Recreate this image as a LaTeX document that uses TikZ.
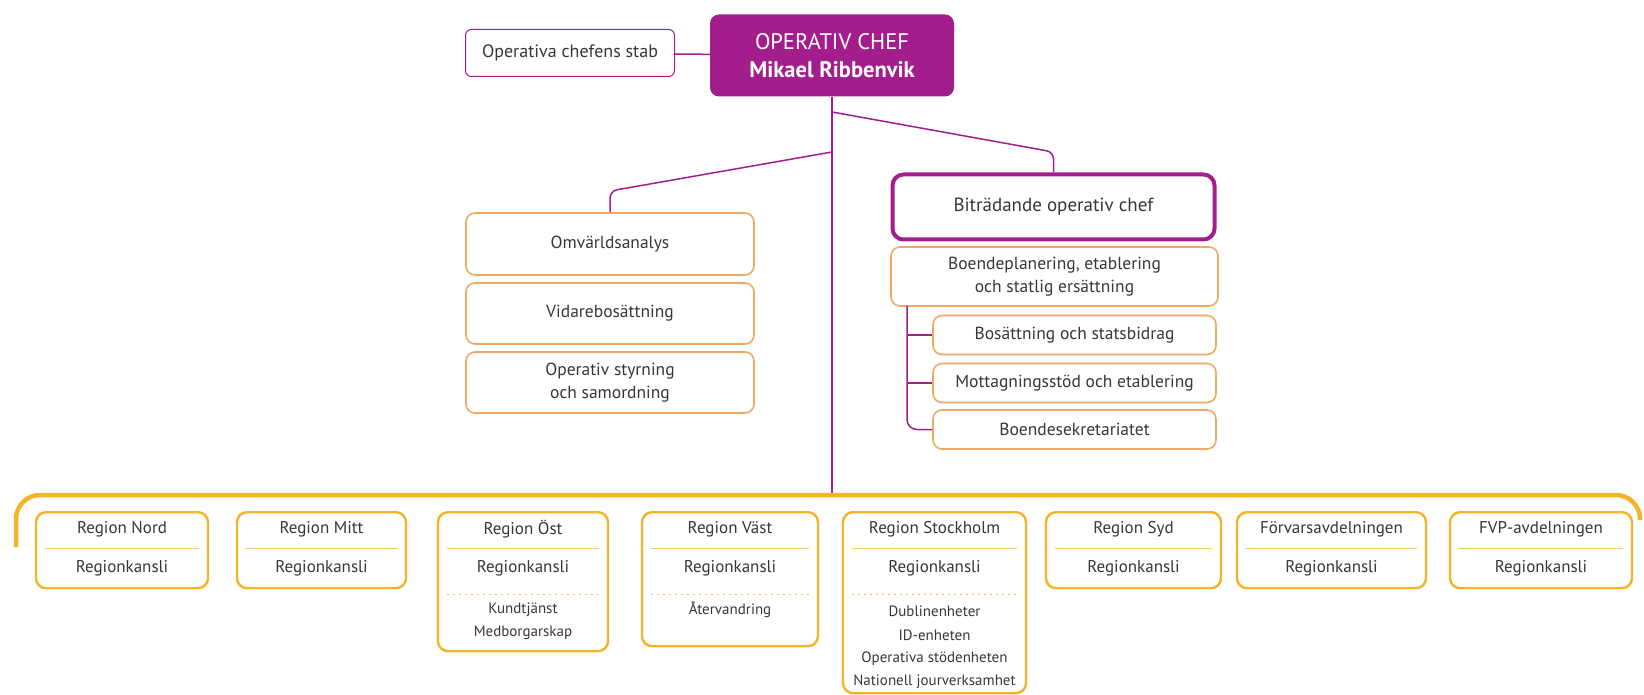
\documentclass[tikz,border=0pt]{standalone}
\usepackage{fontspec}
\setmainfont{PT Sans}
\usetikzlibrary{positioning}
\definecolor{chefpurple}{RGB}{163,30,140}
\definecolor{unitorange}{RGB}{238,170,100}
\definecolor{regionyellow}{RGB}{242,180,40}
\definecolor{textgray}{RGB}{55,55,55}

\tikzset{
  unitbox/.style={draw=unitorange, line width=1.6pt, rounded corners=9pt, fill=white, align=center, text=textgray, inner sep=0pt, font=\fontsize{17.5}{23}\selectfont},
  subbox/.style={unitbox, minimum width=283pt, minimum height=39pt},
  regionbox/.style={draw=regionyellow, line width=2.4pt, rounded corners=10pt, fill=white, anchor=north, inner sep=0pt},
  regiontext/.style={text=textgray, inner sep=0pt, font=\fontsize{17}{20}\selectfont},
  smalltext/.style={text=textgray, inner sep=0pt, font=\fontsize{15}{18}\selectfont},
  sepline/.style={regionyellow!70, line width=0.9pt},
  dotline/.style={regionyellow!80, line width=1.2pt, dash pattern=on 2pt off 4pt},
  orgline/.style={chefpurple, line width=1.5pt}
}

\begin{document}
\begin{tikzpicture}[x=1pt, y=-1pt]
  \useasboundingbox (0,0) rectangle (1644,695);

  % top of the chart
  \node[fill=chefpurple, rounded corners=9pt, text=white, align=center, minimum width=244pt, minimum height=82pt, inner sep=0pt, font=\fontsize{22.5}{28}\selectfont] (chef) at (832,55.5) {OPERATIV CHEF\\\textbf{Mikael Ribbenvik}};
  \node[draw=chefpurple, line width=1pt, rounded corners=6pt, text=textgray, minimum width=209pt, minimum height=47pt, inner sep=0pt, font=\fontsize{18}{20}\selectfont] (stab) at (570,53) {Operativa chefens stab};
  \draw[orgline] (stab) -- (chef);

  % staff units to the left
  \node[unitbox, minimum width=288pt, minimum height=62pt] (omv) at (610,244) {Omvärldsanalys};
  \node[unitbox, minimum width=288pt, minimum height=61pt] (vidare) at (610,313.5) {Vidarebosättning};
  \node[unitbox, minimum width=288pt, minimum height=61pt] (styr) at (610,382.5) {Operativ styrning\\och samordning};

  % deputy and her units
  \node[draw=chefpurple, line width=4pt, rounded corners=11pt, text=textgray, minimum width=322pt, minimum height=65pt, inner sep=0pt, font=\fontsize{19}{22}\selectfont] (bitr) at (1053.5,207) {Biträdande operativ chef};
  \node[unitbox, minimum width=327pt, minimum height=59pt] (boend) at (1054.5,276.5) {Boendeplanering, etablering\\och statlig ersättning};
  \node[subbox] (bos) at (1074.5,335) {Bosättning och statsbidrag};
  \node[subbox] (mott) at (1074.5,383) {Mottagningsstöd och etablering};
  \node[subbox] (sek) at (1074.5,429.5) {Boendesekretariatet};

  % connectors
  \coordinate (lknee) at (610,191);
  \coordinate (rknee) at (1053.5,152);
  \coordinate (bartop) at (832,495);
  \coordinate (brk) at (907,306);
  \draw[orgline, line width=2pt] (chef.south) -- (bartop);
  \draw[orgline, rounded corners=7pt] (832,152) -- (lknee) -- (omv.north);
  \draw[orgline, rounded corners=7pt] (832,112) -- (rknee) -- (bitr.north);
  \draw[orgline, rounded corners=10pt] (brk) -- (brk |- sek.west) -- (sek.west);
  \draw[orgline] (brk |- bos.west) -- (bos.west);
  \draw[orgline] (brk |- mott.west) -- (mott.west);

  % the regions
  \draw[regionyellow, line width=4.5pt, rounded corners=24pt] (16,547) -- (16,495) -- (1640,495) -- (1640,520);
  \foreach \nm/\cx/\boxw/\boxh/\ttl in {nord/122/172/76/Region Nord, mitt/321.5/169/76/Region Mitt,
      ost/523/170/139/Region Öst, vast/730/176/134/Region Väst, sthlm/934.5/183/181/Region Stockholm,
      syd/1133.5/175/76/Region Syd, forvar/1331.5/189/76/Förvarsavdelningen, fvp/1541/182/76/FVP-avdelningen}{
    \node[regionbox, minimum width=\boxw pt, minimum height=\boxh pt] (\nm) at (\cx,511) {};
    \node[regiontext] (\nm-t) at (\cx,529.5) {\ttl};
    \draw[sepline] ([shift={(10,37)}]\nm.north west) -- ([shift={(-10,37)}]\nm.north east);
    \node[regiontext] (\nm-k) at (\cx,568) {Regionkansli};
  }
  \foreach \nm in {ost, vast, sthlm}
    \draw[dotline] ([shift={(10,83.5)}]\nm.north west) -- ([shift={(-10,83.5)}]\nm.north east);

  \node[smalltext] (kund) at (523,610) {Kundtjänst};
  \node[smalltext] (medb) at (523,633) {Medborgarskap};
  \node[smalltext] (atervand) at (730,610) {Återvandring};
  \node[smalltext] (dublin) at (934.5,611) {Dublinenheter};
  \node[smalltext] (idenh) at (934.5,635) {ID-enheten};
  \node[smalltext] (opstod) at (934.5,659) {Operativa stödenheten};
  \node[smalltext] (jour) at (934.5,682) {Nationell jourverksamhet};
\end{tikzpicture}
\end{document}
